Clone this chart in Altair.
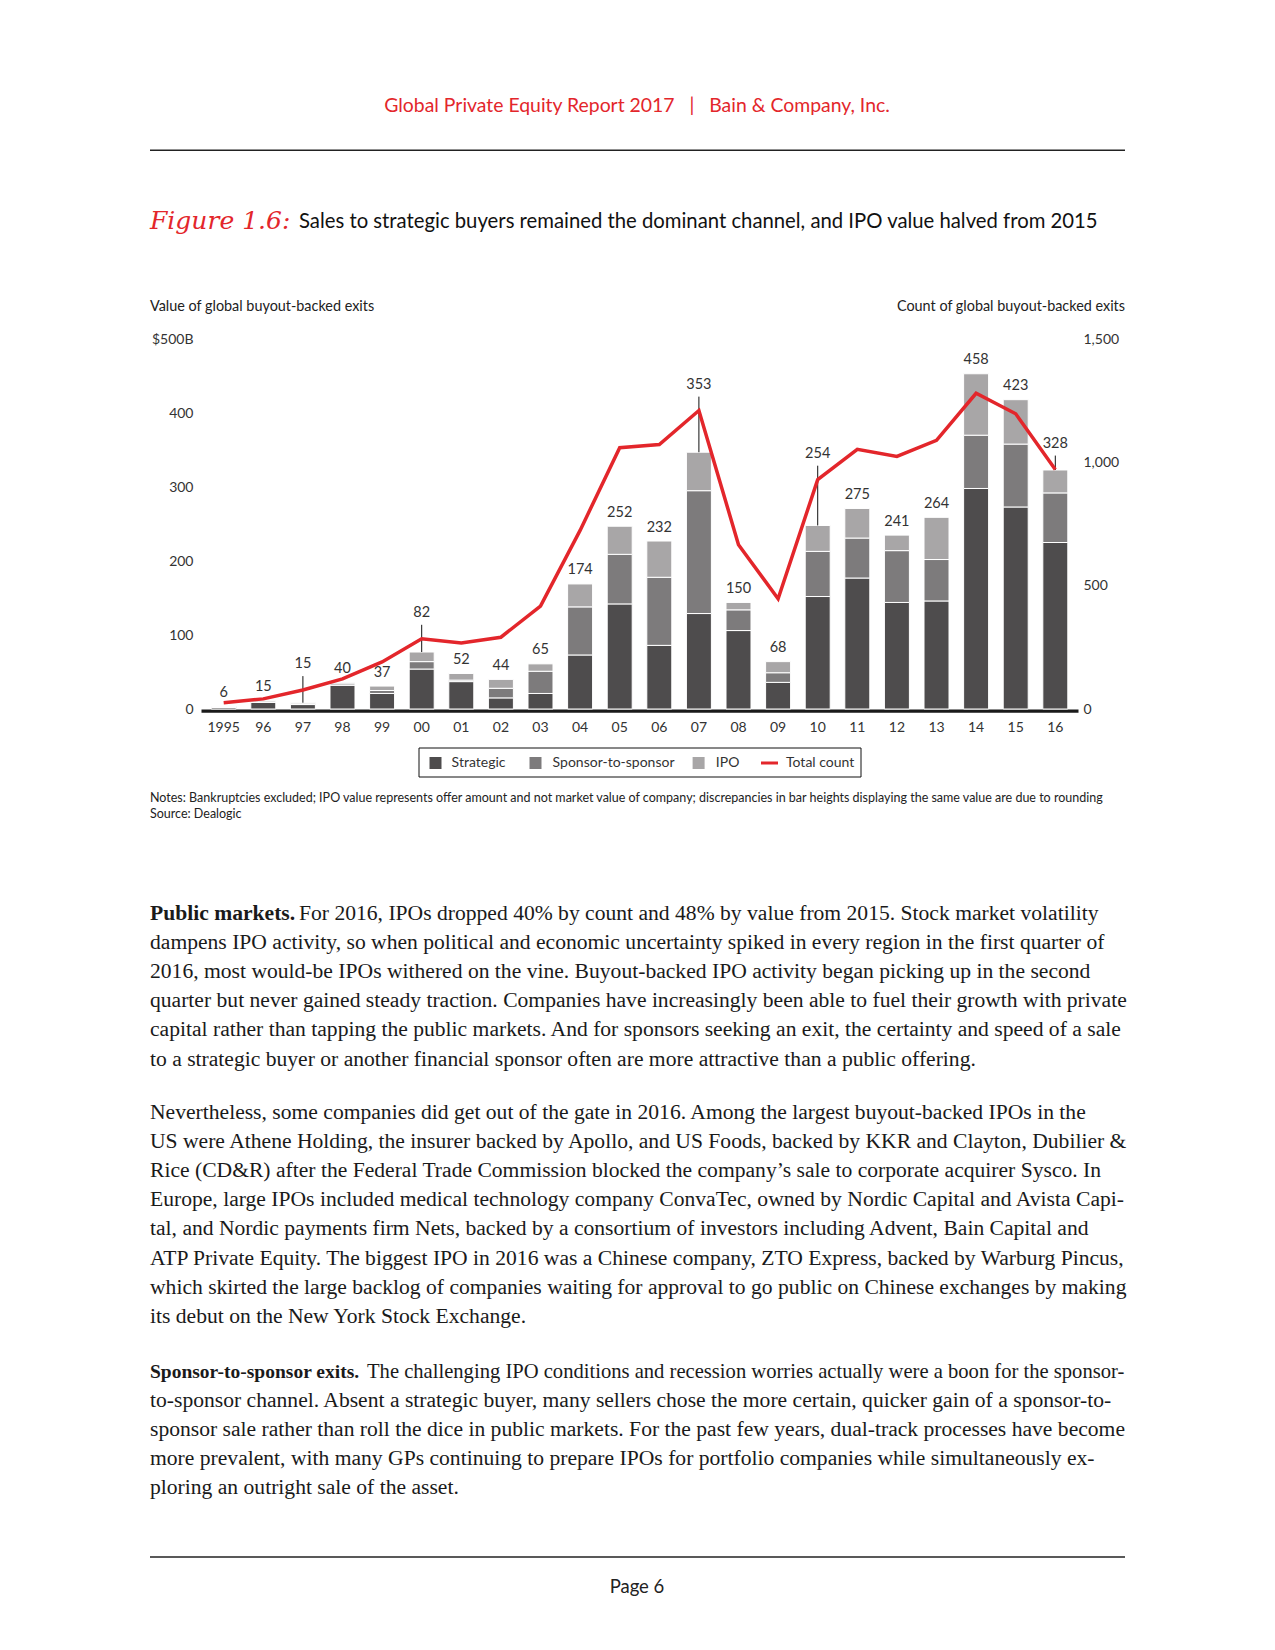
import altair as alt
import pandas as pd

# ---------------- data ----------------
years = ["1995", "96", "97", "98", "99", "00", "01", "02", "03", "04", "05",
         "06", "07", "08", "09", "10", "11", "12", "13", "14", "15", "16"]
strategic = [2, 9, 6, 32, 21, 54, 37, 15, 21, 73, 142, 86, 129, 106, 36, 152, 177, 144, 146, 298, 273, 225]
sponsor = [1, 0.5, 1, 2, 4, 10, 2, 13, 30, 65, 67, 92, 166, 28, 13, 61, 54, 70, 56, 72, 85, 67]
ipo = [0.5, 1.5, 1.5, 1.5, 6, 13, 9, 12, 10, 31, 38, 49, 52, 10, 15, 35, 40, 21, 57, 83, 60, 31]
total_labels = [6, 15, 15, 40, 37, 82, 52, 44, 65, 174, 252, 232, 353, 150, 68, 254, 275, 241, 264, 458, 423, 328]
total_count = [25, 41, 77, 122, 191, 285, 268, 291, 417, 724, 1059, 1072, 1210, 666, 447, 930, 1053, 1024, 1089, 1280, 1197, 971]
leader_years = ["97", "00", "07", "10", "16"]

channels = ["Strategic", "Sponsor-to-sponsor", "IPO"]
channel_colors = ["#4e4c4d", "#7d7b7c", "#a8a6a7"]
RED = "#e3262b"
SANS = "Lato"
SERIF = "Liberation Serif"

NB = "\u00a0"
header_text = "Global Private Equity Report 2017" + NB * 3 + "|" + NB * 3 + "Bain & Company, Inc."
fig_label = "Figure 1.6:"
fig_title = "Sales to strategic buyers remained the dominant channel, and IPO value halved from 2015"
left_title = "Value of global buyout-backed exits"
right_title = "Count of global buyout-backed exits"
notes_lines = [
    "Notes: Bankruptcies excluded; IPO value represents offer amount and not market value of company; discrepancies in bar heights displaying the same value are due to rounding",
    "Source: Dealogic",
]
p1_bold = "Public markets."
p1_first = "For 2016, IPOs dropped 40% by count and 48% by value from 2015. Stock market volatility"
p1_rest = [
    "dampens IPO activity, so when political and economic uncertainty spiked in every region in the first quarter of",
    "2016, most would-be IPOs withered on the vine. Buyout-backed IPO activity began picking up in the second",
    "quarter but never gained steady traction. Companies have increasingly been able to fuel their growth with private",
    "capital rather than tapping the public markets. And for sponsors seeking an exit, the certainty and speed of a sale",
    "to a strategic buyer or another financial sponsor often are more attractive than a public offering.",
]
p2_lines = [
    "Nevertheless, some companies did get out of the gate in 2016. Among the largest buyout-backed IPOs in the",
    "US were Athene Holding, the insurer backed by Apollo, and US Foods, backed by KKR and Clayton, Dubilier &",
    "Rice (CD&R) after the Federal Trade Commission blocked the company\u2019s sale to corporate acquirer Sysco. In",
    "Europe, large IPOs included medical technology company ConvaTec, owned by Nordic Capital and Avista Capi-",
    "tal, and Nordic payments firm Nets, backed by a consortium of investors including Advent, Bain Capital and",
    "ATP Private Equity. The biggest IPO in 2016 was a Chinese company, ZTO Express, backed by Warburg Pincus,",
    "which skirted the large backlog of companies waiting for approval to go public on Chinese exchanges by making",
    "its debut on the New York Stock Exchange.",
]
p3_bold = "Sponsor-to-sponsor exits."
p3_first = "The challenging IPO conditions and recession worries actually were a boon for the sponsor-"
p3_rest = [
    "to-sponsor channel. Absent a strategic buyer, many sellers chose the more certain, quicker gain of a sponsor-to-",
    "sponsor sale rather than roll the dice in public markets. For the past few years, dual-track processes have become",
    "more prevalent, with many GPs continuing to prepare IPOs for portfolio companies while simultaneously ex-",
    "ploring an outright sale of the asset.",
]
page_text = "Page 6"

# ---------------- tables ----------------
rows = []
for i, y in enumerate(years):
    for k, (c, arr) in enumerate(zip(channels, [strategic, sponsor, ipo])):
        rows.append({"year": y, "channel": c, "value": arr[i], "ord": k})
bars_df = pd.DataFrame(rows)

PX = 370 / 500.0  # px per $B
yr = []
for i, y in enumerate(years):
    top = strategic[i] + sponsor[i] + ipo[i]
    if y in leader_years:
        lab = total_count[i] / 3.0 + 35
        lead_top = lab - 12 / PX
    else:
        lab = top + 13.5 / PX
        lead_top = None
    yr.append({"year": y, "top": top, "label": total_labels[i], "lab": lab,
               "lead_top": lead_top, "count": total_count[i], "leader": y in leader_years})
year_df = pd.DataFrame(yr)

W, H = 877, 370
OX, OY = 201, 339  # page position of plot origin

vscale = alt.Scale(domain=[0, 500], nice=False, zero=True)
left_axis = alt.Axis(title=None, orient="left", values=[0, 100, 200, 300, 400, 500],
                     labelExpr="datum.value == 500 ? '$500B' : datum.label",
                     ticks=False, domain=False, grid=False, labelPadding=8,
                     labelFont=SANS, labelFontSize=14, labelColor="#333333")

x_enc = alt.X("year:N", sort=years,
              scale=alt.Scale(paddingInner=0.369, paddingOuter=0.2575),
              axis=alt.Axis(title=None, labelAngle=0, ticks=False, domainColor="#1a1a1a",
                            domainWidth=3.3, offset=1.6, labelPadding=10, labelFont=SANS,
                            labelFontSize=14, labelColor="#333333", grid=False))

bars = alt.Chart(bars_df).mark_bar(stroke="white", strokeWidth=1).encode(
    x=x_enc,
    y=alt.Y("value:Q", stack="zero", scale=vscale, axis=left_axis),
    color=alt.Color("channel:N", scale=alt.Scale(domain=channels, range=channel_colors), legend=None),
    order=alt.Order("ord:Q", sort="ascending"),
)

leaders = alt.Chart(year_df).transform_filter("datum.leader").mark_rule(
    color="#111111", strokeWidth=1).encode(
    x=x_enc,
    y=alt.Y("top:Q", scale=vscale, axis=left_axis),
    y2="lead_top:Q",
)

labels = alt.Chart(year_df).mark_text(font=SANS, fontSize=14.5, color="#333333",
                                      baseline="middle", align="center").encode(
    x=x_enc,
    y=alt.Y("lab:Q", scale=vscale, axis=left_axis),
    text="label:Q",
)

line = alt.Chart(year_df).mark_line(color=RED, strokeWidth=3.5).encode(
    x=x_enc,
    y=alt.Y("count:Q", scale=alt.Scale(domain=[0, 1500], nice=False, zero=True),
            axis=alt.Axis(title=None, orient="right", values=[0, 500, 1000, 1500], format=",d",
                          ticks=False, domain=False, grid=False, labelPadding=5,
                          labelFont=SANS, labelFontSize=14, labelColor="#333333")),
)

value_layer = alt.layer(bars, leaders, labels)

one = pd.DataFrame({"k": [0]})


def rx(px):
    return px - OX


def ry(py):
    return py - OY


def text_layer(txt, px, py, size, color="#222222", font=SANS, align="left", weight="normal",
               style="normal", line_height=None):
    df = pd.DataFrame({"t": [txt]})
    kw = dict(font=font, fontSize=size, color=color, align=align, baseline="middle",
              fontWeight=weight, fontStyle=style)
    if line_height is not None:
        kw["lineBreak"] = "\n"
        kw["lineHeight"] = line_height
    return alt.Chart(df).mark_text(**kw).encode(
        x=alt.value(rx(px)), y=alt.value(ry(py)), text="t:N")


def hrule(px1, px2, py, width=1.3, color="#222222"):
    return alt.Chart(one).mark_rule(color=color, strokeWidth=width).encode(
        x=alt.value(rx(px1)), x2=alt.value(rx(px2)), y=alt.value(ry(py)))


decor = []
decor.append(text_layer(header_text, 637, 106, 19.4, color=RED, align="center"))
decor.append(hrule(150, 1125, 150.3, 1.5))
decor.append(text_layer(fig_label, 150, 221, 25, color=RED, font="DejaVu Serif", style="italic"))
decor.append(text_layer(fig_title, 299, 222, 20.3, color="#111111"))
decor.append(text_layer(left_title, 150, 306.7, 14.4))
decor.append(text_layer(right_title, 1125, 306.7, 14.4, align="right"))
decor.append(text_layer("\n".join(notes_lines), 150, 798, 12.5, line_height=16))

# legend (decoration)
decor.append(alt.Chart(one).mark_rect(fill="white", stroke="#111111", strokeWidth=1).encode(
    x=alt.value(rx(419)), x2=alt.value(rx(861)), y=alt.value(ry(748)), y2=alt.value(ry(777))))
leg_sq_x = [429.5, 529.5, 692.6]
leg_tx_x = [451.6, 552.6, 715.8]
LY = 763
for c, col, sx, tx in zip(channels, channel_colors, leg_sq_x, leg_tx_x):
    decor.append(alt.Chart(one).mark_rect(fill=col).encode(
        x=alt.value(rx(sx)), x2=alt.value(rx(sx + 12)), y=alt.value(ry(LY - 6)), y2=alt.value(ry(LY + 6))))
    decor.append(text_layer(c, tx, LY, 14, color="#333333"))
decor.append(hrule(761, 778, LY, 3, RED))
decor.append(text_layer("Total count", 786, LY, 14, color="#333333"))

# body text
LH = 29.2
BODY = 21.6
INK = "#1a1a1a"
decor.append(text_layer(p1_bold, 150, 913.7, BODY, color=INK, font=SERIF, weight="bold"))
decor.append(text_layer(p1_first, 299, 913.7, BODY, color=INK, font=SERIF))
decor.append(text_layer("\n".join(p1_rest), 150, 913.7 + LH, BODY, color=INK, font=SERIF, line_height=LH))
decor.append(text_layer("\n".join(p2_lines), 150, 1112.6, BODY, color=INK, font=SERIF, line_height=LH))
decor.append(text_layer(p3_bold, 150, 1371.6, 19.5, color=INK, font=SERIF, weight="bold"))
decor.append(text_layer(p3_first, 367, 1371.6, 20.6, color=INK, font=SERIF))
decor.append(text_layer("\n".join(p3_rest), 150, 1371.6 + LH, BODY, color=INK, font=SERIF, line_height=LH))

decor.append(hrule(150, 1125, 1557, 1.3))
decor.append(text_layer(page_text, 637, 1587, 18.5, color="#222222", align="center"))

chart = alt.layer(value_layer, line, *decor).resolve_scale(y="independent").properties(
    width=W, height=H,
    autosize=alt.AutoSizeParams(type="none"),
    padding={"left": OX - 8, "top": OY - 8, "right": 1259 - (OX - 8) - W, "bottom": 1634 - (OY - 8) - H},
).configure(background="white").configure_view(strokeWidth=0, stroke="transparent")

chart.save("out.html", embed_options={"renderer": "svg", "actions": False})
